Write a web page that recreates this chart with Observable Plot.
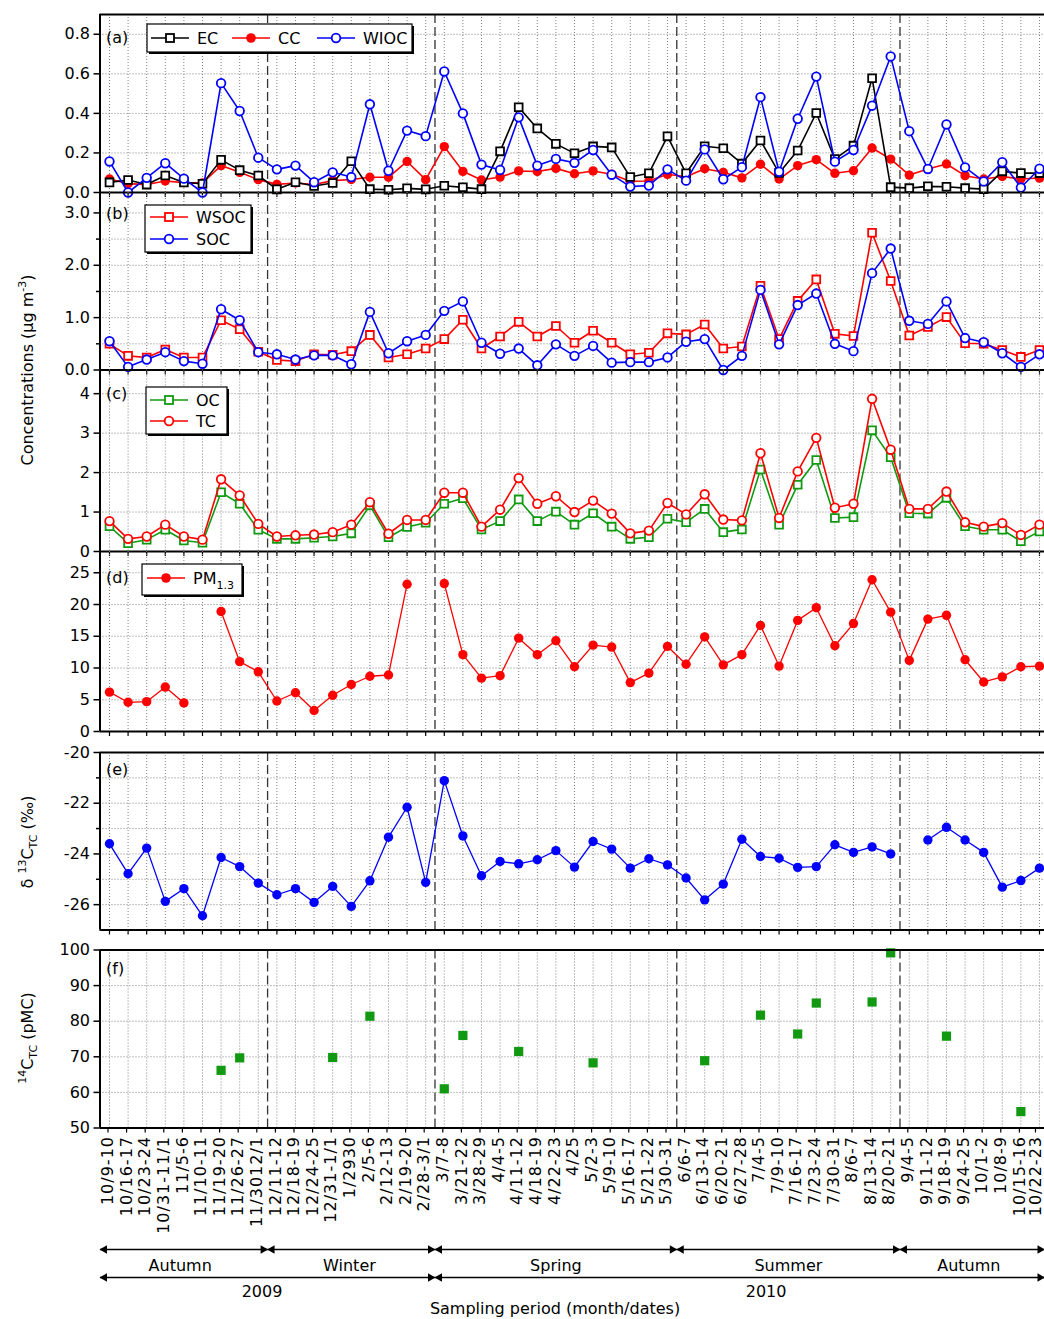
<!DOCTYPE html>
<html><head><meta charset="utf-8">
<script src="https://cdn.jsdelivr.net/npm/d3@7"></script>
<script src="https://cdn.jsdelivr.net/npm/@observablehq/plot@0.6"></script>
<style>
body{margin:0;background:#fff;}
#chart{position:relative;width:1044px;height:1319px;overflow:hidden;font-family:"DejaVu Sans",sans-serif;background:#fff;}
#chart svg{position:absolute;left:0;top:0;}
#chart svg [aria-label="x-axis tick label"] text{letter-spacing:1px;}
</style></head><body><div id="chart"></div>
<script>
// ---------- data ----------
const labels = ["10/9-10","10/16-17","10/23-24","10/31-11/1","11/5-6","11/10-11","11/19-20","11/26-27","11/3012/1","12/11-12","12/18-19","12/24-25","12/31-1/1","1/2930","2/5-6","2/12-13","2/19-20","2/28-3/1","3/7-8","3/21-22","3/28-29","4/4-5","4/11-12","4/18-19","4/22-23","4/25","5/2-3","5/9-10","5/16-17","5/21-22","5/30-31","6/6-7","6/13-14","6/20-21","6/27-28","7/4-5","7/9-10","7/16-17","7/23-24","7/30-31","8/6-7","8/13-14","8/20-21","9/4-5","9/11-12","9/18-19","9/24-25","10/1-2","10/8-9","10/15-16","10/22-23"];

const EC = [0.051,0.063,0.040,0.086,0.051,0.044,0.165,0.113,0.086,0.016,0.052,0.033,0.048,0.158,0.017,0.014,0.021,0.016,0.034,0.026,0.017,0.208,0.431,0.324,0.246,0.198,0.233,0.228,0.078,0.097,0.284,0.097,0.234,0.224,0.146,0.263,0.099,0.212,0.402,0.169,0.237,0.578,0.027,0.022,0.031,0.029,0.022,0.017,0.107,0.098,0.098];
const CC = [0.068,0.045,0.040,0.058,0.050,0.048,0.136,0.102,0.065,0.041,0.048,0.040,0.060,0.066,0.077,0.077,0.157,0.065,0.232,0.107,0.063,0.078,0.109,0.106,0.122,0.095,0.109,0.092,0.057,0.058,0.092,0.080,0.120,0.102,0.074,0.143,0.068,0.136,0.166,0.097,0.110,0.225,0.169,0.088,0.119,0.144,0.085,0.068,0.081,0.068,0.073];
const WIOC = [0.157,0.0,0.074,0.148,0.070,0.0,0.553,0.412,0.176,0.117,0.136,0.052,0.102,0.078,0.446,0.110,0.313,0.285,0.612,0.400,0.141,0.114,0.380,0.136,0.170,0.150,0.215,0.090,0.030,0.035,0.117,0.060,0.218,0.067,0.128,0.482,0.105,0.373,0.586,0.156,0.215,0.439,0.688,0.310,0.119,0.344,0.127,0.056,0.153,0.025,0.120];

const WSOC = [0.50,0.27,0.24,0.39,0.24,0.24,0.95,0.78,0.35,0.19,0.17,0.30,0.29,0.36,0.67,0.24,0.30,0.41,0.59,0.96,0.41,0.64,0.92,0.64,0.84,0.52,0.75,0.52,0.30,0.33,0.70,0.68,0.87,0.41,0.45,1.61,0.59,1.32,1.73,0.69,0.65,2.62,1.70,0.66,0.82,1.01,0.51,0.50,0.38,0.25,0.38];
const SOC = [0.55,0.06,0.20,0.34,0.17,0.12,1.16,0.95,0.34,0.30,0.20,0.28,0.28,0.11,1.11,0.32,0.55,0.67,1.13,1.31,0.52,0.31,0.41,0.09,0.49,0.27,0.46,0.14,0.15,0.15,0.24,0.54,0.59,0.00,0.27,1.53,0.49,1.24,1.46,0.50,0.36,1.85,2.32,0.94,0.88,1.31,0.61,0.53,0.32,0.06,0.30];

const OC = [0.64,0.21,0.30,0.55,0.28,0.22,1.50,1.21,0.55,0.32,0.32,0.35,0.38,0.46,1.17,0.36,0.62,0.73,1.21,1.35,0.56,0.77,1.32,0.77,1.01,0.68,0.97,0.63,0.32,0.36,0.83,0.74,1.08,0.49,0.56,2.08,0.68,1.69,2.32,0.85,0.87,3.07,2.39,0.97,0.96,1.36,0.64,0.55,0.55,0.26,0.51];
const TC = [0.77,0.32,0.38,0.68,0.38,0.30,1.83,1.42,0.70,0.38,0.41,0.43,0.49,0.68,1.25,0.45,0.80,0.80,1.49,1.49,0.63,1.06,1.86,1.21,1.40,1.00,1.29,0.96,0.46,0.53,1.23,0.94,1.45,0.81,0.79,2.49,0.85,2.03,2.88,1.11,1.21,3.87,2.58,1.08,1.08,1.52,0.74,0.63,0.72,0.42,0.68];

const PM13 = [6.2,4.6,4.7,7.0,4.5,null,18.9,11.0,9.4,4.8,6.1,3.3,5.7,7.4,8.7,8.9,23.2,null,23.3,12.1,8.4,8.8,14.7,12.1,14.3,10.2,13.6,13.3,7.7,9.2,13.4,10.6,14.9,10.5,12.1,16.7,10.3,17.5,19.5,13.5,17.0,23.9,18.8,11.2,17.7,18.3,11.3,7.8,8.6,10.2,10.3];

const d13C = [-23.60,-24.78,-23.77,-25.87,-25.37,-26.44,-24.14,-24.50,-25.15,-25.61,-25.37,-25.91,-25.28,-26.07,-25.06,-23.34,-22.16,-25.12,-21.11,-23.29,-24.86,-24.30,-24.39,-24.23,-23.87,-24.52,-23.51,-23.81,-24.56,-24.19,-24.43,-24.95,-25.81,-25.19,-23.42,-24.10,-24.17,-24.53,-24.50,-23.64,-23.94,-23.72,-24.00,null,-23.45,-22.95,-23.45,-23.94,-25.31,-25.05,-24.56];

const C14 = [null,null,null,null,null,null,66.2,69.7,null,null,null,null,69.8,null,81.4,null,null,null,61.0,76.0,null,null,71.5,null,null,null,68.3,null,null,null,null,null,68.9,null,null,81.7,null,76.4,85.1,null,null,85.4,99.2,null,null,75.8,null,null,null,54.6,null];

const seasonBreaks = [8.5, 17.5, 30.5, 42.5];
const seasonNames = ["Autumn","Winter","Spring","Summer","Autumn"];
const seasonStart = [-0.51, 8.5, 17.5, 30.5, 42.5];
const seasonEnd   = [8.5, 17.5, 30.5, 42.5, 50.27];
const seasonLabelAt = [3.8, 12.9, 24.0, 36.5, 46.2];
const yearNames = ["2009","2010"];
const yearStart = [-0.51, 17.5];
const yearEnd   = [17.5, 50.27];
const yearLabelAt = [8.2, 35.3];

// ---------- layout ----------
const W = 1044, H = 1319, ML = 99.5;
const xDomain = [-0.51, 50.27];
const idx = d3.range(labels.length);
const last = idx.length - 1;
const GRID = "#808080";
const RED = "#ff0000", BLUE = "#0000ff", GREEN = "#119a11";
const FONT = "DejaVu Sans";
const chart = document.getElementById("chart");
const plain = d => String(d);

function panel(o) {
  const xAxes = o.xlab ? [
    Plot.axisX(idx.slice(0, last), {tickSize: 5, tickPadding: 3, tickFormat: i => labels[i],
      tickRotate: -90, dx: -1.5, label: null, fontSize: 16, strokeWidth: 1.2}),
    Plot.axisX([last], {tickSize: 5, tickPadding: 3, tickFormat: i => labels[i],
      tickRotate: -90, dx: -4, label: null, fontSize: 16, strokeWidth: 1.2})
  ] : [
    Plot.axisX(idx, {tickSize: 5, tickFormat: () => "", label: null, strokeWidth: 1.2})
  ];
  const marks = [
    Plot.gridX(idx, {stroke: GRID, strokeOpacity: 1, strokeDasharray: "1,2", strokeWidth: 1}),
    Plot.gridY(o.grid, {stroke: GRID, strokeOpacity: 1, strokeDasharray: "1,2", strokeWidth: 1}),
    Plot.ruleX(seasonBreaks, {stroke: "#333", strokeDasharray: "9,4", strokeWidth: 1.3}),
    ...o.marks,
    Plot.axisY(o.ticks, {tickSize: 6, tickPadding: 4, tickFormat: o.fmt, label: null, fontSize: 16, strokeWidth: 1.5}),
    o.minor ? Plot.axisY(o.minor, {tickSize: 3.5, tickFormat: () => "", label: null, strokeWidth: 1.5}) : null,
    ...xAxes,
    Plot.ruleX([xDomain[0]], {stroke: "black", strokeWidth: 2}),
    Plot.ruleY([o.domain[0]], {stroke: "black", strokeWidth: 2}),
    o.topLine ? Plot.ruleY([o.domain[1]], {stroke: "black", strokeWidth: 2}) : null
  ];
  const p = Plot.plot({
    width: W, height: H, marginLeft: ML, marginRight: 0,
    marginTop: o.top, marginBottom: H - o.bottom,
    style: {background: "transparent", overflow: "visible", fontFamily: FONT, fontSize: "16px", color: "black"},
    x: {domain: xDomain, axis: null},
    y: {domain: o.domain, axis: null},
    marks
  });
  chart.appendChild(p);
}

const lineDot = (arr, color, symbol, fill, r, sw = 1.6, dsw = 1.8) => [
  Plot.line(idx, {x: i => i, y: i => arr[i], stroke: color, strokeWidth: sw}),
  Plot.dot(idx, {x: i => i, y: i => arr[i], symbol, r, stroke: fill === "white" ? color : "none",
    fill: fill === "white" ? "white" : color, strokeWidth: dsw})
];

// (a)
panel({top: 14, bottom: 192, domain: [0, 0.9], ticks: [0, 0.2, 0.4, 0.6, 0.8], grid: [0.2, 0.4, 0.6, 0.8],
  fmt: d3.format(".1f"), topLine: true,
  marks: [...lineDot(CC, RED, "circle", RED, 4.7), ...lineDot(EC, "black", "square", "white", 4.4),
          ...lineDot(WIOC, BLUE, "circle", "white", 4.3)]});
// (b)
panel({top: 192, bottom: 369.5, domain: [0, 3.39], ticks: [0, 1, 2, 3], minor: [0.5, 1.5, 2.5],
  grid: [0.5, 1, 1.5, 2, 2.5, 3], fmt: d3.format(".1f"),
  marks: [...lineDot(WSOC, RED, "square", "white", 4.4), ...lineDot(SOC, BLUE, "circle", "white", 4.3)]});
// (c)
panel({top: 369.5, bottom: 551, domain: [0, 4.6], ticks: [0, 1, 2, 3, 4], grid: [1, 2, 3, 4], fmt: plain,
  marks: [...lineDot(OC, GREEN, "square", "white", 4.4), ...lineDot(TC, RED, "circle", "white", 4.3)]});
// (d)
panel({top: 551, bottom: 731, domain: [0, 28.35], ticks: [0, 5, 10, 15, 20, 25], grid: [5, 10, 15, 20, 25], fmt: plain,
  marks: lineDot(PM13, RED, "circle", RED, 4.7, 1.3)});
// (e)
panel({top: 752, bottom: 929.5, domain: [-27, -20], ticks: [-26, -24, -22, -20], minor: [-25, -23, -21],
  grid: [-26, -25, -24, -23, -22, -21], fmt: plain, topLine: true,
  marks: lineDot(d13C, BLUE, "circle", BLUE, 4.7, 1.3)});
// (f)
panel({top: 949.5, bottom: 1127.5, domain: [50, 100], ticks: [50, 60, 70, 80, 90, 100], grid: [60, 70, 80, 90],
  fmt: plain, topLine: true, xlab: true,
  marks: [Plot.dot(idx, {x: i => i, y: i => C14[i], symbol: "square", r: 5.2, fill: GREEN})]});

// season / year arrows
const sIdx = d3.range(seasonNames.length), yIdx = d3.range(yearNames.length);
const arrowMarks = (start, end, ids, row) => [
  Plot.link(ids, {x1: i => start[i], x2: i => end[i], y1: () => row, y2: () => row, stroke: "black", strokeWidth: 1.4}),
  Plot.dot(ids, {x: i => start[i], y: () => row, symbol: "triangle", rotate: -90, r: 3.2, fill: "black", dx: 4.5}),
  Plot.dot(ids, {x: i => end[i], y: () => row, symbol: "triangle", rotate: 90, r: 3.2, fill: "black", dx: -4.5})
];
chart.appendChild(Plot.plot({
  width: W, height: H, marginLeft: ML, marginRight: 0, marginTop: 1249, marginBottom: H - 1277,
  style: {background: "transparent", overflow: "visible", fontFamily: FONT, fontSize: "16px", color: "black"},
  x: {domain: xDomain, axis: null},
  y: {type: "point", domain: ["season", "year"], padding: 0, axis: null},
  marks: [
    ...arrowMarks(seasonStart, seasonEnd, sIdx, "season"),
    ...arrowMarks(yearStart, yearEnd, yIdx, "year"),
    Plot.text(sIdx, {x: i => seasonLabelAt[i], y: () => "season", text: i => seasonNames[i], dy: 16, fontSize: 16, fill: "black"}),
    Plot.text(yIdx, {x: i => yearLabelAt[i], y: () => "year", text: i => yearNames[i], dy: 14, fontSize: 16, fill: "black"})
  ]
}));

// ---------- overlay: titles, panel tags, legends ----------
const ov = d3.select(chart).append("svg").attr("width", W).attr("height", H)
  .style("font-family", FONT).style("font-size", "16px").style("overflow", "visible");

ov.append("text").attr("x", 555).attr("y", 1308).attr("text-anchor", "middle").attr("dy", "0.35em")
  .text("Sampling period (month/dates)");

const tags = [["(a)", 37], ["(b)", 213], ["(c)", 393], ["(d)", 577], ["(e)", 769], ["(f)", 968]];
tags.forEach(([t, y]) => ov.append("text").attr("x", 106).attr("y", y).attr("dy", "0.35em").text(t));

function vtitle(cy, parts) {
  const t = ov.append("text").attr("transform", `translate(33,${cy}) rotate(-90)`).attr("text-anchor", "middle");
  parts.forEach(([s, size, dy]) => t.append("tspan").attr("font-size", size).attr("dy", dy).text(s));
}
vtitle(370, [["Concentrations (\u00b5g m", 16, 0], ["-3", 11, -7], [")", 16, 7]]);
vtitle(842, [["\u03b4 ", 16, 0], ["13", 11, -7], ["C", 16, 7], ["TC", 11, 4], [" (\u2030)", 16, -4]]);
vtitle(1038, [["14", 11, -7], ["C", 16, 7], ["TC", 11, 4], [" (pMC)", 16, -4]]);

function box(x, y, w, h) {
  const g = ov.append("g");
  g.append("rect").attr("x", x + 2).attr("y", y + 2).attr("width", w).attr("height", h).attr("fill", "black");
  g.append("rect").attr("x", x).attr("y", y).attr("width", w).attr("height", h).attr("fill", "white")
    .attr("stroke", "black").attr("stroke-width", 1.2);
  return g;
}
function item(g, x, y, color, shape, label, sub) {
  g.append("line").attr("x1", x).attr("x2", x + 38).attr("y1", y).attr("y2", y).attr("stroke", color).attr("stroke-width", 1.6);
  const cx = x + 19;
  if (shape === "sq") g.append("rect").attr("x", cx - 4).attr("y", y - 4).attr("width", 8).attr("height", 8)
    .attr("fill", "white").attr("stroke", color).attr("stroke-width", 1.8);
  if (shape === "oc") g.append("circle").attr("cx", cx).attr("cy", y).attr("r", 4.3).attr("fill", "white")
    .attr("stroke", color).attr("stroke-width", 1.8);
  if (shape === "fc") g.append("circle").attr("cx", cx).attr("cy", y).attr("r", 4.8).attr("fill", color);
  const t = g.append("text").attr("x", x + 46).attr("y", y).attr("dy", "0.35em").text(label);
  if (sub) t.append("tspan").attr("font-size", 11).attr("dy", 5).text(sub);
}
let g = box(147, 24, 265, 28);
item(g, 151, 38, "black", "sq", "EC"); item(g, 232, 38, RED, "fc", "CC"); item(g, 317, 38, BLUE, "oc", "WIOC");
g = box(145, 205, 106, 47);
item(g, 150, 217, RED, "sq", "WSOC"); item(g, 150, 239, BLUE, "oc", "SOC");
g = box(146, 387, 81, 47);
item(g, 150, 400, GREEN, "sq", "OC"); item(g, 150, 421, RED, "oc", "TC");
g = box(142, 564, 100, 31);
item(g, 147, 578, RED, "fc", "PM", "1.3");
</script></body></html>
